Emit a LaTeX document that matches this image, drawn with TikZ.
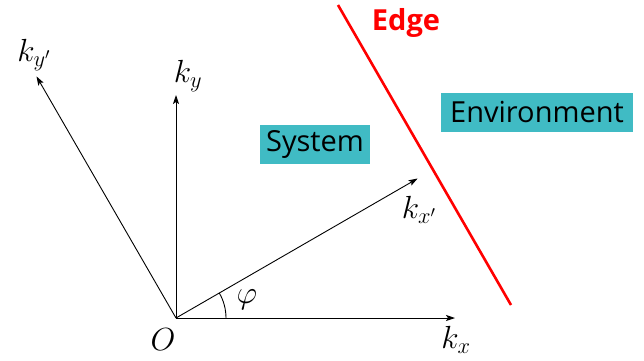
\RequirePackage{fix-cm}
\documentclass[tikz,border=0pt]{standalone}
\usepackage{fontspec}
\setsansfont{Open Sans}
\usetikzlibrary{arrows.meta}
\definecolor{teal1}{RGB}{64,187,196}
\begin{document}
\begin{tikzpicture}[x=1pt,y=-1pt,
  axis/.style={line width=0.9pt,-{Stealth[length=9pt,width=6pt,inset=2pt]}},
  mlabel/.style={inner sep=0pt,font=\fontsize{32}{38}\selectfont},
  tbox/.style={fill=teal1,inner sep=0pt,minimum height=39pt,font=\sffamily\fontsize{29}{34}\selectfont},
]
\useasboundingbox (0,0) rectangle (644,360);
\coordinate (O) at (176,318);
\coordinate (kxe) at (455,318);
\coordinate (kye) at (176,95);
\path (O) ++(-30:279) coordinate (kxpe);
\path (O) ++(-120:279) coordinate (kype);
\draw[axis] (O) -- (kxe);
\draw[axis] (O) -- (kye);
\draw[axis] (O) -- (kxpe);
\draw[axis] (O) -- (kype);
\coordinate (a0) at (226,318);
\draw[line width=0.9pt] (a0) arc[start angle=0,end angle=-30,radius=50];
\coordinate (e1) at (338,5);
\coordinate (e2) at (511,305);
\draw[red,line width=2.6pt] (e1) -- (e2);
\node[mlabel] (lO) at (163,340) {$O$};
\node[mlabel] (lkx) at (456,340) {$k_x$};
\node[mlabel] (lky) at (188,76) {$k_y$};
\node[mlabel] (lkyp) at (34,55) {$k_{y'}$};
\node[mlabel] (lkxp) at (419,210) {$k_{x'}$};
\node[mlabel] (lphi) at (247,300) {$\varphi$};
\node[font=\sffamily\bfseries\fontsize{29}{34}\selectfont,text=red,inner sep=0pt] (edge) at (406,23) {Edge};
\node[tbox,minimum width=110pt] (sys) at (315,144.5) {System};
\node[tbox,minimum width=192pt] (env) at (537,112) {Environment};
\end{tikzpicture}
\end{document}
